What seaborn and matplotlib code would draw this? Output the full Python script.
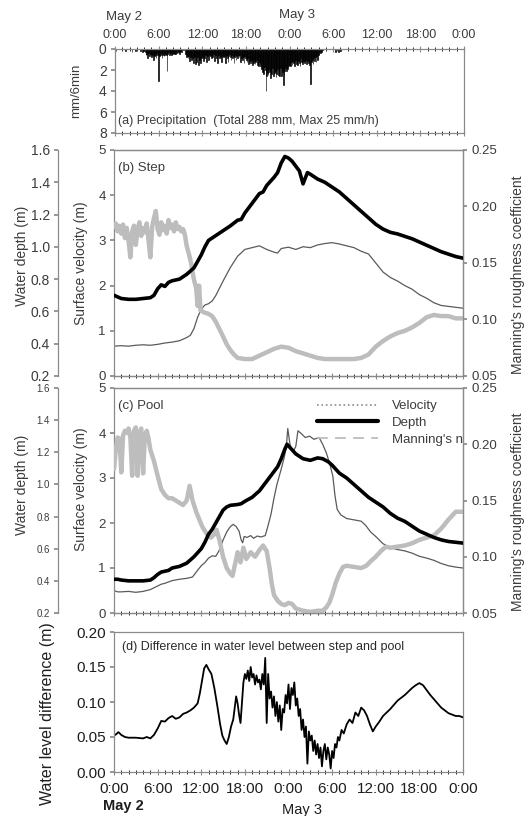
import matplotlib
matplotlib.use("Agg")
import matplotlib.pyplot as plt
from matplotlib.lines import Line2D
from matplotlib.ticker import FormatStrFormatter, MultipleLocator
import numpy as np
import pandas as pd
import seaborn as sns

sns.set_theme(style="ticks")
plt.rcParams["font.family"] = ["Liberation Sans", "DejaVu Sans"]
plt.rcParams["axes.unicode_minus"] = False

TEXT = "#3c3c3c"
SPINE = "#8a8a8a"
LIGHT = "#bdbdbd"
VEL = "#5a5a5a"

TIME_LABELS = ["0:00", "6:00", "12:00", "18:00", "0:00", "6:00", "12:00", "18:00", "0:00"]

# precipitation, mm per 6 min, one row per hour starting May 2 0:00
PRECIP_ROWS = [
    [0, 0.2, 0, 0, 0, 0, 0, 0, 0, 0],
    [0, 0, 0, 0, 0.2, 0, 0, 0, 0, 0],
    [0, 0, 0, 0.3, 0, 0, 0, 0, 0.2, 0],
    [0, 0, 0, 0, 0, 0.2, 0, 0.3, 0, 0.2],
    [0, 0.3, 0.6, 0.5, 0.9, 0.6, 0.4, 0.7, 0.5, 0.6],
    [0.8, 0.6, 1.0, 0.5, 0.7, 0.6, 0.9, 0.4, 0.6, 3.0],
    [0.5, 0.7, 0.6, 0.4, 0.9, 0.6, 0.5, 0.7, 0.6, 0.5],
    [0.6, 2.1, 0.5, 0.3, 0.6, 0.5, 0.4, 0.6, 0.3, 0.5],
    [0.4, 0.5, 0.3, 0.5, 0.4, 0.2, 0.4, 0.3, 0.5, 0.3],
    [0.2, 0.3, 0, 0, 0.1, 0, 0.5, 0.6, 0.8, 0.7],
    [0.9, 0.7, 1.1, 0.8, 0.6, 1.0, 0.9, 1.3, 0.7, 0.8],
    [1.4, 0.9, 1.2, 0.8, 1.5, 0.7, 1.0, 1.3, 0.9, 0.6],
    [0.8, 1.1, 0.7, 0.9, 0.6, 1.2, 0.8, 0.7, 1.0, 0.6],
    [0.5, 0.7, 0.9, 0.6, 0.8, 0.5, 1.1, 0.7, 0.6, 0.9],
    [1.3, 0.7, 0.6, 0.9, 0.5, 0.8, 1.2, 0.7, 0.6, 0.8],
    [0.7, 1.3, 0.8, 0.6, 0.9, 1.2, 0.7, 0.5, 0.8, 1.0],
    [0.6, 0.9, 0.7, 1.3, 0.8, 0.6, 1.0, 0.7, 0.9, 0.6],
    [0.8, 0.6, 1.2, 0.9, 0.7, 1.0, 0.8, 1.3, 0.7, 0.9],
    [1.0, 1.2, 0.9, 1.4, 1.1, 0.8, 1.3, 1.0, 1.2, 1.5],
    [1.3, 1.1, 1.4, 1.2, 1.0, 1.5, 1.3, 1.6, 1.2, 1.4],
    [1.6, 1.9, 2.2, 1.8, 2.4, 1.7, 2.0, 4.0, 2.6, 2.3],
    [2.5, 1.9, 2.2, 2.8, 2.1, 2.4, 1.8, 2.6, 2.0, 2.3],
    [2.1, 2.7, 2.4, 1.9, 2.5, 2.2, 2.6, 1.8, 2.6, 2.0],
    [2.2, 3.4, 2.5, 2.1, 1.8, 2.1, 1.7, 1.9, 1.6, 1.5],
    [1.4, 1.6, 1.2, 1.5, 1.1, 1.3, 1.6, 1.2, 1.0, 1.4],
    [1.2, 1.5, 1.1, 1.3, 1.6, 0.9, 1.2, 1.4, 1.0, 1.1],
    [1.3, 1.2, 1.0, 1.4, 1.1, 0.8, 1.3, 1.5, 3.3, 0.9],
    [1.2, 1.0, 1.4, 0.9, 1.1, 0.8, 1.2, 0.7, 1.0, 0.6],
    [0.5, 0.3, 0.4, 0.2, 0.3, 0.1, 0, 0, 0, 0],
    [0, 0, 0, 0, 0, 0, 0, 0, 0, 0],
    [0, 0, 0, 0.3, 0, 0.2, 0, 0.3, 0, 0],
    [0.2, 0, 0, 0, 0, 0, 0, 0, 0, 0],
]

# (b) step
step_vel_t = [0, 1, 2, 3, 4, 5, 6, 7, 8, 9, 10, 10.5, 11, 11.5, 12, 12.5, 13, 13.5, 14, 15, 16, 17, 18,
              19, 20, 21, 22, 22.5, 23, 24, 25, 26, 27, 28, 29, 30, 31, 32, 33, 34, 35, 36, 37, 38, 39,
              40, 41, 42, 43, 44, 45, 46, 47, 48]
step_vel = [0.66, 0.67, 0.66, 0.68, 0.69, 0.68, 0.70, 0.73, 0.75, 0.78, 0.85, 0.90, 1.05, 1.30, 1.48,
            1.57, 1.60, 1.66, 1.78, 2.10, 2.40, 2.65, 2.80, 2.84, 2.88, 2.80, 2.74, 2.72, 2.82, 2.85,
            2.80, 2.86, 2.84, 2.90, 2.93, 2.95, 2.92, 2.88, 2.84, 2.76, 2.70, 2.50, 2.30, 2.18, 2.10,
            2.00, 1.92, 1.80, 1.72, 1.62, 1.56, 1.54, 1.52, 1.50]

step_depth_t = [0, 0.5, 1, 2, 3, 4, 5, 5.5, 6, 6.5, 7, 7.5, 8, 9, 10, 11, 11.5, 12, 12.5, 13, 14, 15, 16,
                17, 17.5, 18, 19, 19.5, 20, 20.5, 21, 22, 22.5, 23, 23.5, 24, 24.5, 25, 25.5, 26, 26.6,
                27, 28, 29, 30, 31, 32, 33, 34, 35, 36, 37, 38, 39, 40, 41, 42, 43, 44, 45, 46, 47, 48]
step_depth = [0.70, 0.69, 0.68, 0.675, 0.675, 0.68, 0.685, 0.70, 0.74, 0.765, 0.755, 0.78, 0.79, 0.80,
              0.83, 0.87, 0.91, 0.95, 1.00, 1.04, 1.07, 1.10, 1.13, 1.165, 1.17, 1.21, 1.27, 1.30, 1.33,
              1.34, 1.38, 1.43, 1.46, 1.52, 1.56, 1.55, 1.53, 1.50, 1.47, 1.39, 1.46, 1.45, 1.42, 1.40,
              1.37, 1.34, 1.30, 1.26, 1.22, 1.18, 1.14, 1.11, 1.09, 1.08, 1.065, 1.05, 1.03, 1.01, 0.99,
              0.97, 0.955, 0.94, 0.93]

step_n_t = [0, 0.25, 0.5, 0.75, 1, 1.25, 1.5, 1.75, 2, 2.25, 2.5, 2.75, 3, 3.25, 3.5, 3.75, 4, 4.25, 4.5,
            4.75, 5, 5.25, 5.5, 5.75, 6, 6.25, 6.5, 6.75, 7, 7.25, 7.5, 7.75, 8, 8.25, 8.5, 8.75, 9, 9.25,
            9.5, 9.75, 10, 10.3, 10.6, 11, 11.3, 11.5, 11.7, 11.9, 12.5, 13, 13.5, 14, 15, 15.5, 16, 16.5,
            17, 18, 19, 20, 21, 22, 23, 24, 25, 26, 27, 28, 29, 30, 31, 32, 33, 34, 35, 36, 37, 38, 39,
            40, 41, 42, 43, 44, 45, 46, 47, 48]
step_n = [0.182, 0.185, 0.178, 0.183, 0.176, 0.184, 0.172, 0.181, 0.170, 0.155, 0.178, 0.183, 0.166,
          0.180, 0.186, 0.174, 0.181, 0.177, 0.185, 0.170, 0.155, 0.182, 0.190, 0.196, 0.180, 0.175,
          0.186, 0.179, 0.183, 0.176, 0.188, 0.181, 0.184, 0.178, 0.186, 0.180, 0.182, 0.178, 0.180,
          0.175, 0.165, 0.158, 0.150, 0.135, 0.128, 0.112, 0.130, 0.108, 0.106, 0.105, 0.103, 0.098,
          0.085, 0.078, 0.073, 0.069, 0.066, 0.065, 0.065, 0.068, 0.071, 0.074, 0.076, 0.075, 0.072,
          0.070, 0.068, 0.066, 0.065, 0.065, 0.065, 0.065, 0.065, 0.066, 0.069, 0.076, 0.081, 0.085,
          0.088, 0.090, 0.093, 0.097, 0.102, 0.104, 0.103, 0.103, 0.101, 0.101]

# (c) pool
pool_vel_t = [0, 0.5, 1, 2, 3, 4, 5, 6, 6.5, 7, 8, 9, 10, 10.8, 11.5, 12, 12.5, 13, 13.5, 14, 14.5, 15,
              15.5, 16, 16.4, 16.8, 17.2, 17.5, 17.7, 17.9, 18.3, 18.8, 19.2, 19.7, 20.2, 20.8, 21.2,
              21.6, 22, 22.4, 23, 23.4, 23.7, 23.9, 24.2, 24.6, 25.0, 25.3, 25.8, 26.3, 26.9, 27.5, 28.2,
              28.7, 29.2, 29.7, 30.1, 30.4, 30.7, 31.2, 32, 33, 34, 34.6, 35.3, 36, 37, 38, 39, 40, 41,
              42, 43, 44, 45, 46, 47, 48]
pool_vel = [0.50, 0.47, 0.47, 0.48, 0.46, 0.48, 0.52, 0.60, 0.64, 0.66, 0.72, 0.75, 0.77, 0.80, 0.95,
            1.05, 1.12, 1.22, 1.27, 1.26, 1.40, 1.62, 1.80, 1.92, 1.97, 1.92, 1.82, 1.62, 1.56, 1.70,
            1.68, 1.72, 1.66, 1.71, 1.69, 1.72, 1.95, 2.20, 2.55, 2.85, 3.20, 3.45, 3.70, 4.10, 3.75,
            3.58, 3.70, 4.05, 3.98, 3.90, 3.93, 3.86, 3.90, 3.75, 3.56, 3.30, 3.04, 2.60, 2.30, 2.18,
            2.10, 2.07, 2.04, 1.95, 1.80, 1.70, 1.54, 1.45, 1.41, 1.38, 1.33, 1.26, 1.22, 1.17, 1.10,
            1.05, 1.02, 1.00]

pool_depth_t = [0, 0.5, 1, 2, 3, 4, 5, 5.5, 6, 6.5, 7, 7.5, 8, 9, 10, 11, 12, 12.5, 13, 13.5, 14, 14.5,
                15, 15.5, 16, 17, 17.5, 18, 19, 20, 21, 22, 22.5, 23, 23.5, 23.8, 24.2, 25, 26, 27, 28,
                28.7, 29.5, 30, 31, 32, 33, 34, 35, 36, 37, 38, 39, 40, 41, 42, 43, 44, 45, 46, 47, 48]
pool_depth = [0.41, 0.41, 0.405, 0.40, 0.40, 0.40, 0.405, 0.42, 0.44, 0.455, 0.46, 0.465, 0.48, 0.49,
              0.51, 0.55, 0.60, 0.64, 0.69, 0.72, 0.76, 0.80, 0.84, 0.86, 0.87, 0.875, 0.88, 0.895, 0.92,
              0.96, 1.02, 1.08, 1.11, 1.16, 1.22, 1.25, 1.23, 1.19, 1.16, 1.15, 1.165, 1.16, 1.14, 1.12,
              1.07, 1.04, 1.00, 0.96, 0.92, 0.89, 0.86, 0.82, 0.79, 0.77, 0.74, 0.71, 0.69, 0.67, 0.655,
              0.645, 0.64, 0.635]

pool_n_t = [0, 0.25, 0.5, 0.75, 1, 1.25, 1.5, 1.75, 2, 2.25, 2.5, 2.75, 3, 3.25, 3.5, 3.75, 4, 4.25, 4.5,
            4.75, 5, 5.5, 6, 6.5, 7, 7.5, 8, 8.5, 9, 9.5, 10, 10.4, 10.8, 11.3, 11.8, 12.2, 12.8, 13.3,
            13.8, 14.1, 14.5, 15, 15.5, 16, 16.3, 16.7, 17, 17.4, 17.8, 18.2, 18.8, 19.4, 20, 20.5, 21,
            21.4, 21.7, 22, 22.5, 23, 23.5, 24, 24.5, 25, 25.5, 26, 27, 28, 28.7, 29.2, 29.6, 30, 30.5,
            31, 31.5, 32, 33, 34, 34.7, 35.3, 36, 36.7, 37.4, 38, 39, 40, 41, 42, 43, 44, 45, 46, 47, 48]
pool_n = [0.178, 0.196, 0.206, 0.205, 0.175, 0.208, 0.212, 0.210, 0.214, 0.206, 0.172, 0.212, 0.215,
          0.172, 0.210, 0.214, 0.174, 0.208, 0.212, 0.205, 0.195, 0.185, 0.172, 0.160, 0.155, 0.152,
          0.152, 0.150, 0.148, 0.146, 0.150, 0.163, 0.150, 0.140, 0.132, 0.126, 0.120, 0.117, 0.120,
          0.124, 0.115, 0.100, 0.090, 0.085, 0.083, 0.095, 0.104, 0.095, 0.108, 0.098, 0.104, 0.100,
          0.106, 0.110, 0.105, 0.090, 0.076, 0.066, 0.061, 0.058, 0.057, 0.059, 0.058, 0.054, 0.053,
          0.052, 0.051, 0.052, 0.052, 0.055, 0.059, 0.066, 0.077, 0.085, 0.091, 0.092, 0.091, 0.090,
          0.092, 0.096, 0.100, 0.105, 0.109, 0.108, 0.109, 0.110, 0.112, 0.115, 0.117, 0.119, 0.125,
          0.133, 0.140, 0.140]

# (d) water level difference
diff_t = [0, 0.3, 0.6, 1, 1.5, 2, 3, 4, 4.5, 5, 5.5, 6, 6.5, 7, 7.5, 8, 8.5, 9, 9.5, 10, 10.5, 11, 11.5,
          11.8, 12.1, 12.4, 12.7, 13.0, 13.4, 13.8, 14.2, 14.6, 14.9, 15.2, 15.5, 15.8, 16.1, 16.4, 16.8,
          17.0, 17.2, 17.4, 17.6, 17.8, 18.0, 18.2, 18.4, 18.6, 18.8, 19.0, 19.2, 19.4, 19.6, 19.8, 20.0,
          20.2, 20.4, 20.6, 20.8, 21.0, 21.2, 21.4, 21.6, 21.8, 22.0, 22.2, 22.4, 22.6, 22.8, 23.0, 23.2,
          23.4, 23.6, 23.8, 24.0, 24.2, 24.4, 24.6, 24.8, 25.0, 25.2, 25.4, 25.6, 25.8, 26.0, 26.2, 26.4,
          26.6, 26.8, 27.0, 27.2, 27.4, 27.6, 27.8, 28.0, 28.2, 28.4, 28.6, 28.8, 29.0, 29.2, 29.4, 29.6,
          29.8, 30.0, 30.2, 30.4, 30.6, 30.8, 31.0, 31.3, 31.6, 32.0, 32.4, 32.8, 33.2, 33.6, 34.0, 34.4,
          34.8, 35.2, 35.6, 36.0, 36.5, 37.0, 37.5, 38.0, 38.5, 39.0, 39.5, 40, 40.5, 41, 41.5, 42, 42.5,
          43, 43.5, 44, 44.5, 45, 45.5, 46, 46.5, 47, 47.5, 48]
diff = [0.052, 0.054, 0.057, 0.053, 0.050, 0.049, 0.049, 0.048, 0.050, 0.048, 0.053, 0.062, 0.073,
        0.072, 0.077, 0.080, 0.076, 0.078, 0.083, 0.085, 0.088, 0.092, 0.098, 0.112, 0.130, 0.148,
        0.153, 0.147, 0.140, 0.120, 0.095, 0.068, 0.052, 0.045, 0.040, 0.050, 0.065, 0.075, 0.108,
        0.098, 0.082, 0.070, 0.100, 0.128, 0.140, 0.133, 0.145, 0.130, 0.150, 0.135, 0.140, 0.125,
        0.138, 0.128, 0.132, 0.118, 0.140, 0.125, 0.163, 0.070, 0.140, 0.105, 0.115, 0.092, 0.108,
        0.080, 0.100, 0.072, 0.095, 0.060, 0.090, 0.085, 0.110, 0.098, 0.125, 0.090, 0.120, 0.110,
        0.128, 0.095, 0.105, 0.080, 0.090, 0.060, 0.075, 0.050, 0.065, 0.012, 0.058, 0.045, 0.052,
        0.030, 0.045, 0.025, 0.040, 0.020, 0.035, 0.008, 0.030, 0.040, 0.018, 0.035, 0.025, 0.005,
        0.030, 0.020, 0.040, 0.035, 0.050, 0.045, 0.060, 0.055, 0.068, 0.075, 0.070, 0.085, 0.080,
        0.092, 0.088, 0.080, 0.068, 0.058, 0.065, 0.072, 0.080, 0.085, 0.090, 0.096, 0.102, 0.106,
        0.110, 0.115, 0.120, 0.124, 0.127, 0.124, 0.117, 0.110, 0.104, 0.098, 0.092, 0.088, 0.084,
        0.082, 0.080, 0.080, 0.078]

FIG_W, FIG_H = 531, 816
LEFT, RIGHT = 114, 463


def add_axes(fig, top, bottom, left=LEFT, right=RIGHT):
    return fig.add_axes([left / FIG_W, 1 - bottom / FIG_H, (right - left) / FIG_W, (bottom - top) / FIG_H])


def style_frame(ax):
    for spine in ax.spines.values():
        spine.set_color(SPINE)
        spine.set_linewidth(0.9)
    ax.tick_params(colors=SPINE, labelcolor=TEXT)


def time_axis(ax, labels_on=None):
    ax.set_xlim(0, 48)
    ax.xaxis.set_major_locator(MultipleLocator(6))
    ax.xaxis.set_minor_locator(MultipleLocator(1))
    ax.tick_params(axis="x", which="major", direction="inout", length=5, width=0.8)
    ax.tick_params(axis="x", which="minor", direction="inout", length=3.5, width=0.7)
    ax.set_xlabel("")
    if labels_on is None:
        ax.tick_params(axis="x", which="both", labelbottom=False)
    else:
        ax.set_xticks(np.arange(0, 49, 6))
        ax.set_xticklabels(TIME_LABELS)


def draw_precip(ax):
    values = np.array(PRECIP_ROWS).ravel()
    rain = pd.DataFrame({"t": np.arange(len(values)) * 0.1 + 0.05, "mm": values})
    sns.histplot(data=rain, x="t", weights="mm", binwidth=0.1, binrange=(0, 48), color="black",
                 alpha=1, edgecolor="black", linewidth=0.45, ax=ax)
    ax.set_ylim(8, 0)
    ax.set_yticks([0, 2, 4, 6, 8])
    style_frame(ax)
    time_axis(ax, labels_on="top")
    ax.xaxis.set_ticks_position("both")
    ax.tick_params(axis="x", which="both", labeltop=True, labelbottom=False, labelsize=9, pad=3)
    ax.tick_params(axis="y", labelsize=10, direction="out", length=3, pad=3)
    ax.set_ylabel("mm/6min", fontsize=9.5, color=TEXT)
    ax.yaxis.set_label_coords((82 - 115) / 349, 0.5)
    ax.text(0.01, 0.14, "(a) Precipitation  (Total 288 mm, Max 25 mm/h)", transform=ax.transAxes,
            fontsize=9, color=TEXT, va="center")
    fig = ax.figure
    fig.text(124 / FIG_W, 1 - 17 / FIG_H, "May 2", fontsize=9.5, color=TEXT, ha="center", va="center")
    fig.text(297 / FIG_W, 1 - 15 / FIG_H, "May 3", fontsize=9.5, color=TEXT, ha="center", va="center")


def draw_hydraulics(ax, vel_t, vel, depth_t, depth, n_t, n, tag, depth_tick_size, label_y):
    ax_n = ax.twinx()
    ax_dep = ax.twinx()

    sns.lineplot(x=vel_t, y=vel, ax=ax, color=VEL, linewidth=0.9, estimator=None)
    sns.lineplot(x=n_t, y=n, ax=ax_n, color=LIGHT, linewidth=3.2, estimator=None)
    sns.lineplot(x=depth_t, y=depth, ax=ax_dep, color="black", linewidth=2.6, estimator=None)

    ax.set_ylim(0, 5)
    ax.set_yticks(range(6))
    ax_n.set_ylim(0.05, 0.25)
    ax_n.set_yticks([0.05, 0.10, 0.15, 0.20, 0.25])
    ax_n.yaxis.set_major_formatter(FormatStrFormatter("%.2f"))
    ax_dep.set_ylim(0.2, 1.6)
    ax_dep.set_yticks(np.arange(0.2, 1.61, 0.2))
    ax_dep.yaxis.set_major_formatter(FormatStrFormatter("%.1f"))

    for a in (ax, ax_n, ax_dep):
        style_frame(a)
        time_axis(a)
        a.set_xlabel("")

    ax_dep.yaxis.set_ticks_position("left")
    ax_dep.yaxis.set_label_position("left")
    # outward offset is in points: 40 pt is about 56 px at 100 dpi
    ax_dep.spines["left"].set_position(("outward", 40))
    for side in ("right", "top", "bottom"):
        ax_dep.spines[side].set_visible(False)
    ax_dep.tick_params(axis="x", which="both", bottom=False, top=False)
    ax_n.tick_params(axis="x", which="both", bottom=False, top=False)
    ax_n.spines["left"].set_visible(False)

    ax.tick_params(axis="y", labelsize=9.5, direction="out", length=3, pad=3)
    ax_n.tick_params(axis="y", labelsize=9.5, direction="out", length=3, pad=3)
    ax_dep.tick_params(axis="y", labelsize=depth_tick_size, direction="out", length=3, pad=3)

    ax.set_ylabel("Surface velocity (m)", fontsize=10, color=TEXT)
    ax.yaxis.set_label_coords((88 - LEFT) / 349, label_y[0])
    ax_dep.set_ylabel("Water depth (m)", fontsize=10, color=TEXT)
    ax_dep.yaxis.set_label_coords((29 - LEFT) / 349, label_y[1])
    ax_n.set_ylabel("Manning's roughness coefficient", fontsize=10, color=TEXT)
    ax_n.yaxis.set_label_coords((511 - LEFT) / 349, label_y[2])

    ax.text(0.012, 0.92, tag, transform=ax.transAxes, fontsize=9.5, color=TEXT, va="center")
    return ax_dep


def draw_difference(ax):
    sns.lineplot(x=diff_t, y=diff, ax=ax, color="black", linewidth=1.3, estimator=None)
    ax.set_ylim(0, 0.2)
    ax.set_yticks([0, 0.05, 0.10, 0.15, 0.20])
    ax.yaxis.set_major_formatter(FormatStrFormatter("%.2f"))
    style_frame(ax)
    time_axis(ax, labels_on="bottom")
    ax.tick_params(labelcolor="#1e1e1e")
    ax.tick_params(axis="both", labelsize=11)
    ax.tick_params(axis="x", which="major", pad=5)
    ax.tick_params(axis="y", direction="out", length=3, pad=3)
    ax.set_ylabel("Water level difference (m)", fontsize=11.5, color="#1e1e1e")
    ax.yaxis.set_label_coords((55 - LEFT) / 349, 0.42)
    ax.text(0.023, 0.89, "(d) Difference in water level between step and pool", transform=ax.transAxes,
            fontsize=9, color="#2a2a2a", va="center")
    fig = ax.figure
    fig.text(123 / FIG_W, 1 - 806 / FIG_H, "May 2", fontsize=10.5, color="#1e1e1e", ha="center",
             va="center", fontweight="bold")
    fig.text(302 / FIG_W, 1 - 810 / FIG_H, "May 3", fontsize=10.5, color="#1e1e1e", ha="center",
             va="center")


def main():
    fig = plt.figure(figsize=(FIG_W / 100, FIG_H / 100), dpi=100)

    ax_a = add_axes(fig, 49, 133, left=115, right=464)
    draw_precip(ax_a)

    ax_b = add_axes(fig, 150, 376)
    draw_hydraulics(ax_b, step_vel_t, step_vel, step_depth_t, step_depth, step_n_t, step_n,
                    "(b) Step", 10, (0.5, 0.53, 0.45))

    ax_c = add_axes(fig, 388, 613)
    top_c = draw_hydraulics(ax_c, pool_vel_t, pool_vel, pool_depth_t, pool_depth, pool_n_t, pool_n,
                            "(c) Pool", 7, (0.55, 0.57, 0.45))
    handles = [
        Line2D([], [], color="#8a8a8a", linewidth=1.2, linestyle=":"),
        Line2D([], [], color="black", linewidth=3),
        Line2D([], [], color=LIGHT, linewidth=1.3, linestyle=(0, (6, 4))),
    ]
    leg = top_c.legend(handles, ["Velocity", "Depth", "Manning's n"], loc="upper left",
                       bbox_to_anchor=((317 - LEFT) / 349, 1 - (400 - 388) / 225), frameon=False,
                       fontsize=9.5, handlelength=4.6, handletextpad=1.1, labelspacing=0.35,
                       borderpad=0, borderaxespad=0)
    for text in leg.get_texts():
        text.set_color(TEXT)

    ax_d = add_axes(fig, 632, 772)
    draw_difference(ax_d)

    fig.savefig("out.png", dpi=100)
    plt.close(fig)


if __name__ == "__main__":
    main()
